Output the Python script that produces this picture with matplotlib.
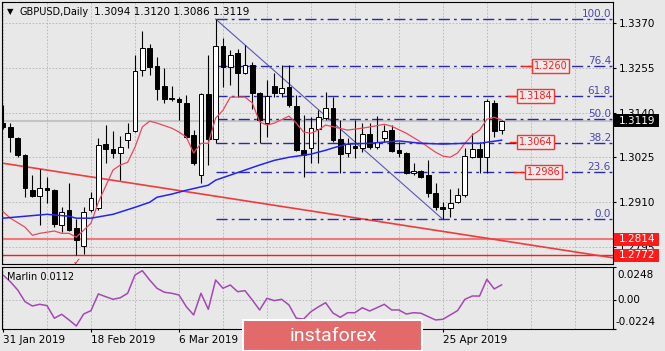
import matplotlib
matplotlib.use('Agg')
import matplotlib.pyplot as plt
from matplotlib.patches import Rectangle

plt.rcParams['font.family'] = ['DejaVu Sans']

# --- Data (GBPUSD daily, 31 Jan - 7 May 2019) ---
opens = [1.3112, 1.3103, 1.3075, 1.3032, 1.2940, 1.2925, 1.2945, 1.2940, 1.2850, 1.2889,
         1.2842, 1.2796, 1.2889, 1.2893, 1.3058, 1.3045, 1.3035, 1.3069, 1.3093, 1.3250,
         1.3306, 1.3260, 1.3208, 1.3177, 1.3175, 1.3165, 1.3082, 1.2979, 1.3188, 1.3072,
         1.3312, 1.3257, 1.3293, 1.3242, 1.3263, 1.3190, 1.3113, 1.3208, 1.3190, 1.3206,
         1.3157, 1.3043, 1.3049, 1.3098, 1.3126, 1.3152, 1.3072, 1.3036, 1.3054, 1.3049,
         1.3085, 1.3051, 1.3074, 1.3095, 1.3043, 1.3036, 1.2984, 1.2989, 1.2979, 1.2933,
         1.2896, 1.2894, 1.2909, 1.2927, 1.3025, 1.3046, 1.3025, 1.3165, 1.3094]
highs = [1.3159, 1.3112, 1.3077, 1.3033, 1.2979, 1.2994, 1.2975, 1.2943, 1.2897, 1.2958,
         1.2867, 1.2897, 1.2936, 1.3074, 1.3108, 1.3092, 1.3080, 1.3112, 1.3288, 1.3351,
         1.3318, 1.3284, 1.3254, 1.3208, 1.3180, 1.3185, 1.3095, 1.3190, 1.3288, 1.3381,
         1.3332, 1.3301, 1.3304, 1.3314, 1.3270, 1.3192, 1.3224, 1.3242, 1.3263, 1.3263,
         1.3185, 1.3134, 1.3129, 1.3146, 1.3193, 1.3180, 1.3121, 1.3074, 1.3121, 1.3112,
         1.3112, 1.3131, 1.3108, 1.3108, 1.3064, 1.3038, 1.3009, 1.2992, 1.3017, 1.2958,
         1.2909, 1.2943, 1.2945, 1.3049, 1.3087, 1.3064, 1.3175, 1.3172, 1.3120]
lows = [1.3099, 1.3039, 1.3026, 1.2923, 1.2923, 1.2850, 1.2906, 1.2846, 1.2833, 1.2835,
        1.2773, 1.2777, 1.2884, 1.2889, 1.3009, 1.3022, 1.2966, 1.3050, 1.3090, 1.3235,
        1.3237, 1.3172, 1.3164, 1.3170, 1.3121, 1.3074, 1.3005, 1.2958, 1.3005, 1.3061,
        1.3206, 1.3211, 1.3180, 1.3239, 1.3149, 1.3061, 1.3077, 1.3180, 1.3180, 1.3154,
        1.3040, 1.2974, 1.3009, 1.3009, 1.3121, 1.3064, 1.2984, 1.3026, 1.3022, 1.3038,
        1.3047, 1.3047, 1.3064, 1.3038, 1.3026, 1.2982, 1.2979, 1.2971, 1.2922, 1.2889,
        1.2865, 1.2871, 1.2907, 1.2922, 1.3022, 1.2984, 1.2984, 1.3077, 1.3086]
closes = [1.3102, 1.3076, 1.3032, 1.2945, 1.2925, 1.2946, 1.2940, 1.2852, 1.2884, 1.2837,
          1.2813, 1.2884, 1.2919, 1.3056, 1.3045, 1.3035, 1.3052, 1.3088, 1.3248, 1.3306,
          1.3257, 1.3200, 1.3174, 1.3174, 1.3167, 1.3078, 1.3009, 1.3188, 1.3072, 1.3312,
          1.3257, 1.3288, 1.3242, 1.3263, 1.3190, 1.3121, 1.3183, 1.3190, 1.3203, 1.3159,
          1.3043, 1.3031, 1.3100, 1.3129, 1.3152, 1.3069, 1.3033, 1.3058, 1.3049, 1.3085,
          1.3051, 1.3064, 1.3092, 1.3041, 1.3036, 1.2984, 1.2989, 1.2974, 1.2933, 1.2896,
          1.2891, 1.2907, 1.2927, 1.3028, 1.3046, 1.3025, 1.3170, 1.3092, 1.3119]

# moving averages, read at the bars where they bend
ma_fast_bars = [0, 1, 3, 4, 5, 7, 8, 9, 10, 11, 12, 13, 15, 16, 17, 18, 19, 20, 21, 23,
                24, 25, 26, 27, 28, 29, 30, 31, 33, 34, 35, 36, 37, 39, 40, 41, 42, 43, 44, 47,
                49, 50, 52, 53, 55, 57, 59, 60, 61, 62, 63, 64, 65, 66, 67, 68]
ma_fast = [1.2885, 1.2868, 1.2845, 1.2824, 1.2829, 1.2835, 1.2829, 1.2829, 1.2819, 1.2837,
           1.2855, 1.2909, 1.2992, 1.3005, 1.3012, 1.3051, 1.3103, 1.3118, 1.3113, 1.3100,
           1.3090, 1.3077, 1.3036, 1.3061, 1.3061, 1.3126, 1.3146, 1.3180, 1.3180, 1.3165,
           1.3116, 1.3108, 1.3113, 1.3131, 1.3113, 1.3090, 1.3087, 1.3095, 1.3108, 1.3095,
           1.3100, 1.3103, 1.3110, 1.3105, 1.3087, 1.3064, 1.3038, 1.3028, 1.3025, 1.3036,
           1.3061, 1.3082, 1.3095, 1.3123, 1.3128, 1.3121]
ma_slow_bars = [0, 3, 6, 9, 10, 12, 15, 16, 18, 20, 21, 23, 25, 28, 29, 31, 33, 35, 37, 39,
                42, 44, 45, 47, 50, 54, 57, 60, 63, 65, 68]
ma_slow = [1.2868, 1.2873, 1.2878, 1.2873, 1.2868, 1.2868, 1.2878, 1.2884, 1.2896, 1.2909,
           1.2922, 1.2930, 1.2940, 1.2953, 1.2966, 1.2979, 1.2992, 1.3005, 1.3017, 1.3025,
           1.3033, 1.3043, 1.3049, 1.3059, 1.3061, 1.3067, 1.3061, 1.3059, 1.3061, 1.3061,
           1.3069]

marlin = [0.0187, 0.0136, 0.0073, -0.0016, -0.0049, -0.0036, -0.0046, -0.0142, -0.0112, -0.0155,
          -0.0201, -0.0110, -0.0084, 0.0043, 0.0022, 0.0002, 0.0014, 0.0048, 0.0187, 0.0220,
          0.0149, 0.0086, 0.0056, 0.0048, 0.0035, -0.0054, -0.0117, 0.0048, -0.0074, 0.0149,
          0.0086, 0.0111, 0.0060, 0.0068, -0.0003, -0.0079, 0.0010, -0.0008, 0.0002, -0.0041,
          -0.0142, -0.0148, -0.0092, -0.0056, -0.0024, -0.0102, -0.0135, -0.0100, -0.0100, -0.0062,
          -0.0087, -0.0062, -0.0036, -0.0079, -0.0079, -0.0110, -0.0100, -0.0104, -0.0130, -0.0155,
          -0.0150, -0.0117, -0.0084, 0.0002, 0.0027, 0.0027, 0.0154, 0.0081, 0.0112]

# 22 Mar and 9 Apr sit under the instaforex badge, so they stay blank
date_ticks = [0, 12, 24, 36, 48, 60]
date_labels = ['31 Jan 2019', '18 Feb 2019', '6 Mar 2019', '', '', '25 Apr 2019']
price_ticks = [1.3370, 1.3255, 1.3140, 1.3025, 1.2910, 1.2795]
marlin_ticks = [-0.0224, 0.0, 0.0248]

# fibonacci grid from the 13 Mar high to the 25 Apr low
fib_pct = ['0.0', '23.6', '38.2', '50.0', '61.8', '76.4', '100.0']
fib_prices = [1.2865, 1.2987, 1.3062, 1.3123, 1.3184, 1.3259, 1.3381]
fib_anchor_bars = [29, 60]
fib_anchor_prices = [1.3381, 1.2865]

trend_bars = [-0.14, 83.2]
trend_prices = [1.3010, 1.2766]
support_levels = [1.2814, 1.2772]
target_levels = [1.3260, 1.3184, 1.3064, 1.2986]
last_price = 1.3119

# --- layout (pixel based, figure is 665 x 351) ---
W, H = 665, 351
bg = '#e8e8e8'
target_box_bar = [72.2, 70.1, 70.1, 71.2]
target_line_bar = [70.8, 68.9, 69.2, 69.7]


def px_rect(x0, y0, x1, y1):
    return [x0 / W, 1 - y1 / H, (x1 - x0) / W, (y1 - y0) / H]


fig = plt.figure(figsize=(W / 100, H / 100), dpi=100, facecolor=bg)
ax = fig.add_axes(px_rect(2, 2, 613, 264), facecolor=bg)
ax2 = fig.add_axes(px_rect(2, 267, 613, 329), facecolor=bg, sharex=ax)

ax.set_xlim(-0.14, 83.2)
ax.set_ylim(1.2750, 1.3425)
ax2.set_ylim(-0.0224, 0.0248)
px_price = (1.3425 - 1.2750) / 262  # price per pixel
px_bar = 1 / 7.33                    # bars per pixel

grid_kw = dict(color='#b4b4b4', linestyle=(0, (2, 2)), linewidth=0.6)

# --- Top panel: candles, averages, fibo and levels ---
ax.axhline(last_price, color='#c4c4c4', lw=1.5, zorder=1)
for lvl, col, lw in zip(support_levels, ['#f07878', '#ff1a1a'], [1.5, 1.0]):
    ax.axhline(lvl, color=col, lw=lw, zorder=2)
ax.plot(trend_bars, trend_prices, color='#f03c3c', lw=1.2, zorder=2)

for p, pct in zip(fib_prices, fib_pct):
    ax.plot([fib_anchor_bars[0], 83.2], [p, p], color='#2a2aa8', lw=1.0,
            dashes=(8, 3, 2, 3), zorder=2)
    ax.annotate(pct, xy=(1, p), xycoords=('axes fraction', 'data'), xytext=(-2, 0),
                textcoords='offset pixels', ha='right', va='bottom', fontsize=7.5,
                color='#4848a8')
ax.plot(fib_anchor_bars, fib_anchor_prices, color='#5858b8', lw=0.8, zorder=2)

bars = range(len(opens))
ax.vlines(bars, lows, highs, color='black', lw=0.8, zorder=3)
for i in bars:
    up = closes[i] >= opens[i]
    ax.bar(i, abs(closes[i] - opens[i]), bottom=min(opens[i], closes[i]), width=0.66,
           color='white' if up else 'black', edgecolor='black', lw=0.7, zorder=4)

ax.plot(ma_fast_bars, ma_fast, color='#e8485e', lw=0.9, zorder=5)
ax.plot(ma_slow_bars, ma_slow, color='#2424f0', lw=1.1, zorder=5)

ax.text(10, 1.2756, '\u2713', color='red', fontsize=7, ha='center', va='center', zorder=6)

# target labels with a short leader
box_h = 14 * px_price
box_w = 37 * px_bar
for p, bx, lx in zip(target_levels, target_box_bar, target_line_bar):
    ax.plot([lx, bx], [p, p], color='#ff2020', lw=1.0, zorder=6)
    ax.add_patch(Rectangle((bx, p - box_h / 2), box_w, box_h, facecolor='#ececec',
                           edgecolor='#ff3030', lw=1.0, zorder=6))
    ax.text(bx + box_w / 2, p, '%.4f' % p, color='#ff1a1a', fontsize=7,
            ha='center', va='center', zorder=7)

# price scale on the right
ax.yaxis.tick_right()
ax.set_yticks(price_ticks)
ax.set_yticklabels(['%.4f' % p for p in price_ticks])
ax.tick_params(axis='y', length=2.5, pad=2, labelsize=7.5, direction='out')
ax.tick_params(axis='x', which='both', length=0, labelbottom=False)
ax.grid(True, axis='y', **grid_kw)
ax.grid(True, axis='x', which='both', **grid_kw)

tag_h = 13 * px_price
tag_w = 45 / 611
for p, fc in [(last_price, 'black'), (support_levels[0], '#ff1a1a'), (support_levels[1], '#ff1a1a')]:
    ax.add_patch(Rectangle((1.002, p - tag_h / 2), tag_w, tag_h, facecolor=fc, edgecolor='none',
                           transform=ax.get_yaxis_transform(), clip_on=False, zorder=8))
    ax.text(1.002 + tag_w / 2, p, '%.4f' % p, color='white', fontsize=7.5, ha='center',
            va='center', transform=ax.get_yaxis_transform(), clip_on=False, zorder=9)

ax.annotate('\u25bc', xy=(0, 1), xycoords='axes fraction', xytext=(5, -10),
            textcoords='offset pixels', fontsize=6, va='center')
ax.annotate('GBPUSD,Daily', xy=(0, 1), xycoords='axes fraction', xytext=(17, -10),
            textcoords='offset pixels', fontsize=7, va='center')
ax.annotate('1.3094 1.3120 1.3086 1.3119', xy=(0, 1), xycoords='axes fraction', xytext=(92, -10),
            textcoords='offset pixels', fontsize=7.5, va='center')

# --- Bottom panel: Marlin oscillator ---
ax2.plot(bars, marlin, color='#a448b4', lw=1.1)
ax2.yaxis.tick_right()
ax2.set_yticks(marlin_ticks)
ax2.tick_params(axis='y', length=2.5, labelright=False)
ax2.grid(True, axis='y', **grid_kw)
ax2.grid(True, axis='x', which='both', **grid_kw)
for v, dx, dy in zip(marlin_ticks, [2, 4, 4], [7, 0, -8]):
    lab = '0.00' if v == 0 else '%.4f' % v
    ax2.annotate(lab, xy=(1, v), xycoords=('axes fraction', 'data'), xytext=(dx, dy),
                 textcoords='offset pixels', ha='left', va='center', fontsize=7.5,
                 annotation_clip=False)
ax2.annotate('Marlin 0.0112', xy=(0, 1), xycoords='axes fraction', xytext=(5, -10),
             textcoords='offset pixels', fontsize=7, va='center')

ax2.set_xticks(date_ticks)
ax2.set_xticks(range(0, 84, 6), minor=True)
ax2.set_xticklabels(date_labels, fontsize=7.5, ha='left')
ax2.tick_params(axis='x', which='major', length=2.5, pad=2)
ax2.tick_params(axis='x', which='minor', length=0)

for a in (ax, ax2):
    for s in a.spines.values():
        s.set_linewidth(0.8)
        s.set_color('black')

# instaforex badge
fig.patches.append(Rectangle((243 / W, 0), 179 / W, 31 / H, transform=fig.transFigure,
                             facecolor='#e26a6a', edgecolor='white', lw=1.5, zorder=10))
fig.text(333 / W, 1 - 336 / H, 'instaforex', color='white', fontsize=14,
         family=['Roboto', 'DejaVu Sans'], ha='center', va='center', zorder=11)

fig.savefig('out.png', dpi=100, facecolor=bg)
